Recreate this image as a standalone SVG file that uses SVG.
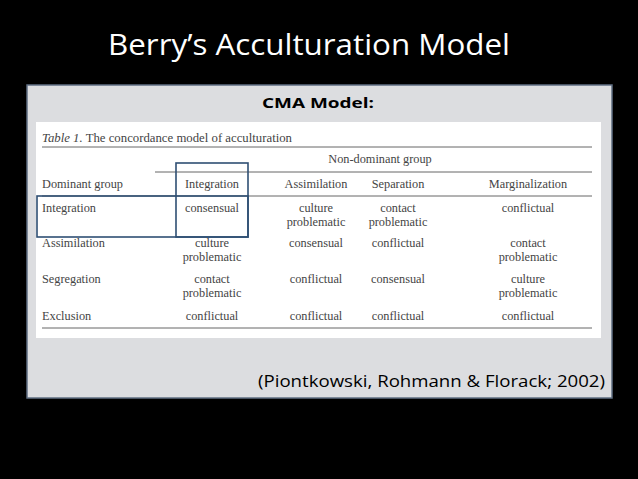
<svg xmlns="http://www.w3.org/2000/svg" width="638" height="479" viewBox="0 0 638 479">
<style>
.t{font-family:"Liberation Serif",serif;font-size:12.3px;fill:#444}
.c{text-anchor:middle}
.l{stroke:#666;stroke-width:1}
.b{fill:none;stroke:#2f4f73;stroke-width:1.6}
</style>
<rect width="638" height="479" fill="#000"/>
<text x="108" y="55" font-family="'Open Sans',sans-serif" font-size="29" fill="#fff" textLength="402" lengthAdjust="spacingAndGlyphs">Berry’s Acculturation Model</text>
<g id="panel">
<rect x="27" y="85" width="585" height="313" fill="#dcdde0" stroke="#5f6e82" stroke-width="1.5"/>
<text x="262" y="108" font-family="'Open Sans',sans-serif" font-weight="bold" font-size="15" fill="#000" textLength="112" lengthAdjust="spacingAndGlyphs">CMA Model:</text>
<rect x="36" y="122" width="565" height="216" fill="#fff"/>
<text x="258" y="387" font-family="'Open Sans',sans-serif" font-size="16" fill="#000" textLength="347" lengthAdjust="spacingAndGlyphs">(Piontkowski, Rohmann &amp; Florack; 2002)</text>
</g>
<g id="table">
<text class="t" x="42" y="142" font-size="13" textLength="250" lengthAdjust="spacingAndGlyphs"><tspan font-style="italic">Table 1.</tspan> The concordance model of acculturation</text>
<line class="l" x1="42" y1="147" x2="592" y2="147"/>
<text class="t c" x="380" y="163">Non-dominant group</text>
<line class="l" x1="155" y1="172" x2="592" y2="172"/>
<text class="t" x="42" y="188">Dominant group</text>
<text class="t c" x="212" y="188">Integration</text>
<text class="t c" x="316" y="188">Assimilation</text>
<text class="t c" x="398" y="188">Separation</text>
<text class="t c" x="528" y="188">Marginalization</text>
<line class="l" x1="42" y1="196" x2="592" y2="196"/>
<text class="t" x="42" y="212">Integration</text>
<text class="t c" x="212" y="212">consensual</text>
<text class="t c" x="316" y="212">culture</text><text class="t c" x="316" y="226">problematic</text>
<text class="t c" x="398" y="212">contact</text><text class="t c" x="398" y="226">problematic</text>
<text class="t c" x="528" y="212">conflictual</text>
<text class="t" x="42" y="247">Assimilation</text>
<text class="t c" x="212" y="247">culture</text><text class="t c" x="212" y="261">problematic</text>
<text class="t c" x="316" y="247">consensual</text>
<text class="t c" x="398" y="247">conflictual</text>
<text class="t c" x="528" y="247">contact</text><text class="t c" x="528" y="261">problematic</text>
<text class="t" x="42" y="283">Segregation</text>
<text class="t c" x="212" y="283">contact</text><text class="t c" x="212" y="297">problematic</text>
<text class="t c" x="316" y="283">conflictual</text>
<text class="t c" x="398" y="283">consensual</text>
<text class="t c" x="528" y="283">culture</text><text class="t c" x="528" y="297">problematic</text>
<text class="t" x="42" y="320">Exclusion</text>
<text class="t c" x="212" y="320">conflictual</text>
<text class="t c" x="316" y="320">conflictual</text>
<text class="t c" x="398" y="320">conflictual</text>
<text class="t c" x="528" y="320">conflictual</text>
<line class="l" x1="42" y1="328" x2="592" y2="328"/>
</g>
<g id="highlights">
<rect class="b" x="176" y="163" width="72" height="74"/>
<rect class="b" x="37" y="196" width="211" height="41"/>
</g>
</svg>
